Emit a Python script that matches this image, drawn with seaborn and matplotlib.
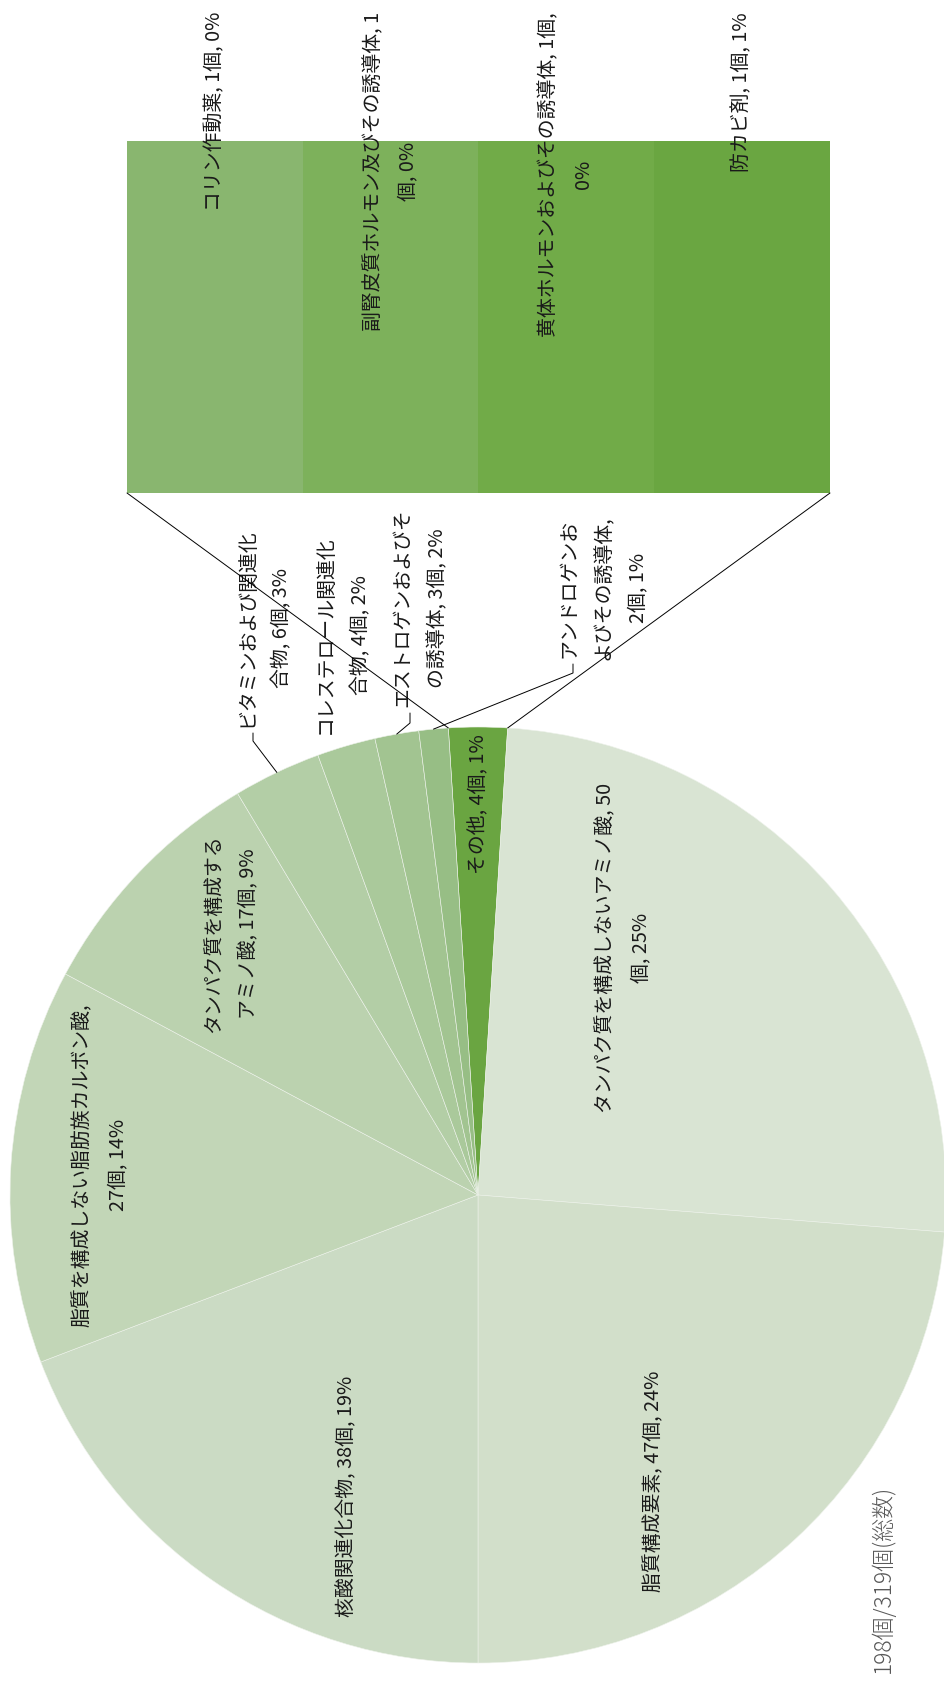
import numpy as np
import pandas as pd
import matplotlib
matplotlib.use("Agg")
import matplotlib.pyplot as plt
import seaborn as sns
from matplotlib.patches import ConnectionPatch

# ---------------- data ----------------
pie_names = ["タンパク質を構成しないアミノ酸", "脂質構成要素", "核酸関連化合物",
             "脂質を構成しない脂肪族カルボン酸", "タンパク質を構成するアミノ酸",
             "ビタミンおよび関連化合物", "コレステロール関連化合物",
             "エストロゲンおよびその誘導体", "アンドロゲンおよびその誘導体"]
pie_counts = [50, 47, 38, 27, 17, 6, 4, 3, 2]
pie_pcts = [25, 24, 19, 14, 9, 3, 2, 2, 1]

other_name = "その他"
other_pct = 1

bar_names = ["コリン作動薬", "副腎皮質ホルモン及びその誘導体",
             "黄体ホルモンおよびその誘導体", "防カビ剤"]
bar_counts = [1, 1, 1, 1]
bar_pcts = [0, 0, 0, 1]

grand_total = 319

# ---------------- style ----------------
sns.set_theme(style="white")
plt.rcParams["font.family"] = ["Noto Sans CJK JP", "DejaVu Sans"]

pie_colors = ["#d9e4d3", "#d2dfca", "#cbdbc4", "#c2d6b7", "#bbd2af",
              "#b3cea6", "#aac99b", "#a2c491", "#97be85"]
other_color = "#6aa541"
bar_colors = ["#89b66f", "#7db15b", "#71ab48", "#6aa641"]
text_color = "#1a1a1a"

W, H = 945, 1685
FS = 14.3
LS = 1.85


def Y(py):
    return H - py


def wrap(s, breaks):
    parts, last = [], 0
    for b in breaks + [len(s)]:
        parts.append(s[last:b].strip())
        last = b
    return "\n".join(parts)


other_count = sum(bar_counts)
counted_total = sum(pie_counts) + other_count

pie_labels_raw = [f"{n}, {c}個, {p}%" for n, c, p in zip(pie_names, pie_counts, pie_pcts)]
pie_breaks = [[19], [], [], [17], [10], [10], [10], [10], [7, 15]]
pie_labels = [wrap(s, b) for s, b in zip(pie_labels_raw, pie_breaks)]
other_label = f"{other_name}, {other_count}個, {other_pct}%"

bar_labels_raw = [f"{n}, {c}個, {p}%" for n, c, p in zip(bar_names, bar_counts, bar_pcts)]
bar_breaks = [[], [18], [19], []]
bar_labels = [wrap(s, b) for s, b in zip(bar_labels_raw, bar_breaks)]

# label centre positions (pixel coords, y from top)
pie_label_pos = [(623, 948), (654, 1481), (347, 1496), (100, 1165), (231, 934),
                 (264, 628), (343, 635), (420, 608), (603, 588)]
other_label_pos = (479, 804)
# leader line start points for outside labels: index -> list of points
leaders = {5: [(253, 733), (253, 741)],
           7: [(410, 713), (410, 723)],
           8: [(573, 664), (573, 673)]}

fig = plt.figure(figsize=(W / 100, H / 100), dpi=100)
ax = fig.add_axes([0, 0, 1, 1])

cx, cy, R = 478, Y(1195), 468
vals = [other_count] + pie_counts
cols = [other_color] + pie_colors
start = 90 + 180.0 * other_count / counted_total
wedges, _ = ax.pie(vals, colors=cols, startangle=start, counterclock=False,
                   center=(cx, cy), radius=R, frame=True,
                   wedgeprops=dict(edgecolor="#edf2ea", linewidth=0.4))
ax.set_xlim(0, W)
ax.set_ylim(0, H)
ax.set_aspect("auto")
ax.axis("off")

# pie labels
for lab, (x, y) in zip(pie_labels, pie_label_pos):
    ax.text(x, Y(y), lab, rotation=90, ha="center", va="center",
            multialignment="center", linespacing=LS, fontsize=FS, color=text_color)
ax.text(other_label_pos[0], Y(other_label_pos[1]), other_label, rotation=90,
        ha="center", va="center", fontsize=FS, color=text_color)

# leader lines
for i, pts in leaders.items():
    w = wedges[i + 1]
    mid = np.deg2rad((w.theta1 + w.theta2) / 2)
    ex, ey = cx + R * np.cos(mid), cy + R * np.sin(mid)
    xs = [p[0] for p in pts] + [ex]
    ys = [Y(p[1]) for p in pts] + [ey]
    ax.plot(xs, ys, color="black", lw=0.7)

# bar of pie
bx = fig.add_axes([127 / W, (H - 493) / H, 703 / W, 352 / H])
lefts = np.concatenate([[0], np.cumsum(bar_counts)[:-1]])
bx.barh(0, bar_counts, left=lefts, height=1, color=bar_colors, linewidth=0)
bx.set_xlim(0, sum(bar_counts))
bx.set_ylim(-0.5, 0.5)
bx.axis("off")
top_frac = (493 - 12) / 352
for lab, l, c in zip(bar_labels, lefts, bar_counts):
    bx.text(l + c / 2, top_frac, lab, transform=bx.get_xaxis_transform(),
            rotation=90, ha="center", va="top", multialignment="center",
            linespacing=LS, fontsize=FS, color=text_color, clip_on=False)

# connector lines between bar and "other" slice
w0 = wedges[0]
t_left = np.deg2rad(max(w0.theta1, w0.theta2))
t_right = np.deg2rad(min(w0.theta1, w0.theta2))
for (axfrac, th) in [((0, 0), t_left), ((1, 0), t_right)]:
    con = ConnectionPatch(xyA=axfrac, coordsA=bx.transAxes,
                          xyB=(cx + R * np.cos(th), cy + R * np.sin(th)),
                          coordsB=ax.transData, color="black", lw=0.7)
    fig.add_artist(con)

# footnote
ax.text(883, Y(1579), f"{counted_total}個/{grand_total}個(総数)", rotation=90,
        ha="center", va="center", fontsize=16.5, color="#595959", fontweight="light")

fig.savefig("out.png", dpi=100, facecolor="white")
